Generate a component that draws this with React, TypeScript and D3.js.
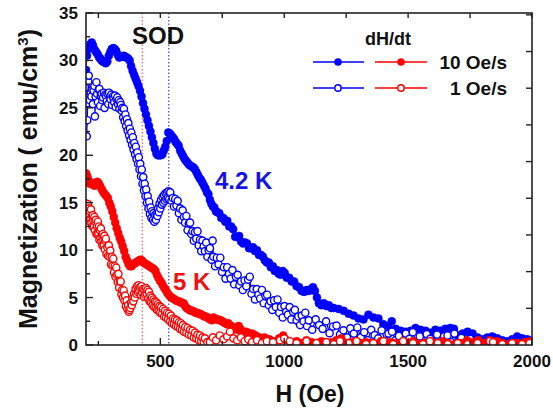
import React from "react";
import * as d3 from "d3";

type P = [number, number];

// 4.2 K, dH/dt = 10 Oe/s (filled blue)
const blue10: P[] = [
  [200, 29.0], [204, 30.5], [208, 31.2], [213, 31.3], [218, 31.7], [223, 31.9], [228, 31.6], [233, 31.2],
  [238, 31.0], [243, 30.8], [248, 30.6], [253, 30.3], [258, 30.2], [263, 30.0], [268, 29.9], [274, 29.8],
  [280, 29.7], [286, 29.9], [292, 30.5], [298, 30.9], [304, 31.2], [310, 31.3], [316, 31.2], [322, 31.0],
  [328, 30.6], [334, 30.3], [340, 30.4], [346, 30.4], [352, 30.5], [358, 30.4], [364, 30.3], [370, 30.2],
  [376, 30.0], [382, 29.4], [388, 28.9], [394, 28.5], [400, 28.1], [406, 27.7], [412, 27.3], [418, 26.8],
  [424, 26.2], [430, 25.5], [436, 24.9], [442, 24.3], [448, 23.7], [454, 23.1], [460, 22.5], [466, 21.9],
  [472, 21.3], [478, 20.7], [484, 20.2], [490, 20.0], [496, 20.0], [502, 20.0], [508, 20.1], [514, 20.5],
  [520, 20.9], [526, 21.5], [532, 22.4], [538, 22.3], [544, 22.1], [550, 21.9], [556, 21.7], [562, 21.4],
  [568, 21.2], [574, 21.0], [580, 20.5], [586, 20.2], [592, 19.9], [598, 19.6], [604, 19.4], [610, 19.2],
  [616, 19.0], [622, 18.9], [628, 18.8], [634, 18.7], [640, 18.5], [646, 18.2], [652, 17.9], [658, 17.6],
  [664, 17.4], [670, 17.1], [676, 16.8], [682, 16.5], [688, 16.1], [694, 15.9], [700, 15.3], [706, 14.9],
  [712, 14.6], [718, 14.5], [724, 14.1], [730, 14.0], [738, 13.9], [746, 13.4], [754, 13.4], [762, 13.0],
  [770, 13.1], [778, 12.5], [786, 12.5], [794, 12.2], [802, 11.4], [810, 11.4], [818, 11.5], [826, 10.9],
  [834, 10.7], [842, 10.8], [850, 10.7], [858, 10.2], [866, 10.2], [874, 10.3], [882, 9.9], [890, 10.0],
  [898, 9.5], [906, 9.5], [914, 9.3], [922, 8.9], [930, 8.7], [938, 8.7], [946, 8.2], [954, 8.3],
  [962, 7.8], [970, 7.9], [978, 7.5], [986, 7.4], [994, 7.8], [1002, 7.6], [1010, 7.1], [1020, 7.1],
  [1030, 6.7], [1040, 6.7], [1050, 6.2], [1060, 6.1], [1070, 5.7], [1080, 5.6], [1090, 5.8], [1100, 5.7],
  [1108, 5.9], [1116, 6.1], [1124, 5.7], [1132, 5.0], [1140, 4.4], [1150, 4.2], [1160, 4.4], [1170, 4.1],
  [1180, 4.2], [1190, 3.9], [1200, 3.9], [1220, 3.8], [1240, 3.6], [1260, 3.3], [1280, 3.1], [1300, 2.8],
  [1320, 2.7], [1340, 3.2], [1360, 2.9], [1380, 2.8], [1400, 2.2], [1420, 2.0], [1434, 2.5], [1450, 1.7],
  [1470, 1.5], [1490, 1.4], [1510, 1.5], [1530, 1.8], [1550, 1.6], [1570, 1.5], [1590, 1.3], [1610, 1.6],
  [1630, 1.5], [1650, 1.7], [1670, 1.8], [1685, 1.7], [1700, 1.0], [1720, 1.2], [1740, 1.4], [1760, 1.2],
  [1780, 0.8], [1800, 0.6], [1820, 0.8], [1840, 0.9], [1860, 0.7], [1880, 0.5], [1900, 0.4], [1920, 0.6],
  [1940, 0.9], [1960, 0.7], [1980, 0.6], [2000, 0.5],
];

// 4.2 K, dH/dt = 1 Oe/s (open blue)
const blue1: P[] = [
  [203, 22.0], [205, 23.7], [207, 25.5], [209, 27.8], [211, 28.4], [213, 26.5], [216, 25.8], [219, 26.6],
  [222, 26.2], [225, 26.9], [228, 25.4], [231, 26.8], [234, 27.3], [236, 24.1], [239, 26.2], [242, 27.7],
  [245, 26.5], [248, 25.6], [251, 26.9], [254, 27.0], [257, 25.2], [260, 26.3], [263, 26.5], [266, 25.8],
  [269, 26.1], [272, 26.6], [275, 25.0], [278, 26.4], [281, 26.2], [284, 25.7], [287, 26.5], [290, 25.4],
  [293, 26.6], [296, 26.1], [299, 25.9], [302, 26.4], [305, 25.3], [308, 26.2], [311, 26.0], [314, 25.6],
  [317, 26.3], [320, 25.1], [323, 25.9], [326, 26.1], [329, 25.4], [332, 25.8], [335, 24.9], [338, 25.6],
  [341, 25.3], [344, 24.7], [347, 25.0],
  [350, 24.0], [353, 24.9], [356, 23.6], [359, 24.3], [362, 23.1], [365, 23.8], [368, 22.6], [371, 23.4],
  [374, 22.1], [377, 22.8], [380, 21.6], [383, 22.4], [386, 21.1], [389, 21.9], [392, 20.6], [395, 21.3],
  [398, 20.1], [401, 20.9], [404, 19.6], [407, 20.3], [410, 19.1], [413, 19.8], [416, 18.5], [419, 19.1],
  [422, 17.8], [425, 18.5], [428, 17.0], [431, 17.7], [434, 16.3], [437, 17.0], [440, 15.7], [443, 16.4],
  [446, 15.0], [449, 15.7], [452, 14.4], [455, 15.1], [458, 13.8], [461, 14.5], [464, 13.4], [467, 14.1],
  [470, 13.2], [473, 13.9], [476, 13.0], [479, 13.7], [482, 13.2], [485, 13.8], [488, 13.6], [491, 14.4],
  [494, 14.0], [497, 14.9], [500, 14.4], [503, 15.3], [506, 14.8], [509, 15.6], [512, 15.0], [515, 15.8],
  [518, 15.2], [521, 16.0], [524, 15.4], [527, 16.1], [530, 15.5], [533, 16.2], [536, 15.4], [539, 16.0],
  [540, 16.1], [545, 15.2], [550, 15.5], [555, 14.6], [560, 15.4], [565, 14.7], [570, 15.2], [575, 13.9],
  [580, 14.4], [585, 13.2], [590, 14.2], [595, 13.5], [600, 12.9], [605, 13.6], [610, 12.1], [615, 12.8],
  [620, 12.9], [625, 11.7], [630, 12.0], [635, 11.0], [640, 11.9], [645, 11.2], [650, 12.0], [655, 10.5],
  [660, 11.1], [665, 9.9], [670, 11.0], [675, 10.4], [680, 9.9], [685, 10.8], [690, 9.3], [695, 10.0],
  [700, 10.2], [707, 9.0], [711, 11.0], [714, 9.3], [721, 8.3], [728, 9.2], [735, 8.5], [742, 9.2],
  [749, 7.7], [756, 8.2], [763, 7.0], [770, 8.2], [777, 7.5], [784, 7.0], [791, 7.9], [798, 6.4],
  [805, 7.2], [812, 7.4], [819, 6.3], [826, 6.7], [833, 5.8], [840, 6.8], [847, 6.2], [854, 6.9],
  [861, 7.2], [868, 5.4], [875, 5.9], [882, 4.8], [889, 5.9], [896, 5.3], [903, 4.9], [910, 5.8],
  [917, 4.4], [924, 5.2], [931, 5.3], [938, 4.2], [945, 4.6], [952, 3.7], [959, 4.7], [966, 4.0],
  [973, 4.8], [980, 3.4], [987, 4.0], [994, 2.9], [1001, 4.1], [1008, 3.5], [1015, 3.2], [1022, 4.0],
  [1029, 2.7], [1036, 3.5], [1043, 3.7], [1050, 2.6], [1057, 3.0], [1064, 2.1], [1071, 3.1], [1078, 2.5],
  [1085, 3.4], [1092, 2.0], [1099, 2.6], [1113, 1.6], [1127, 2.7], [1141, 2.1], [1155, 1.7], [1169, 2.5],
  [1183, 1.25], [1197, 1.95], [1211, 2.05], [1225, 1.1], [1239, 1.55], [1253, 0.8], [1267, 1.75], [1281, 1.2],
  [1295, 1.85], [1309, 0.8], [1323, 1.35], [1337, 0.5], [1351, 1.6], [1365, 1.05], [1379, 0.7], [1393, 1.55],
  [1407, 0.45], [1421, 1.2], [1435, 1.4], [1449, 0.5], [1463, 0.95], [1477, 0.3], [1491, 1.2], [1505, 0.65],
  [1519, 1.35], [1533, 0.3], [1547, 0.9], [1561, 0.2], [1575, 1.15], [1589, 0.65], [1603, 0.3], [1617, 1.1],
  [1631, 0.2], [1645, 0.9], [1659, 1.0], [1673, 0.3], [1687, 1.2], [1701, 0.3], [1715, 0.75], [1730, 0.2],
  [1750, 0.65],
];

// 5 K, dH/dt = 10 Oe/s (filled red)
const red10: P[] = [
  [200, 18.1], [205, 17.8], [210, 17.4], [216, 17.0], [222, 17.1], [228, 16.9], [234, 16.8], [240, 17.1],
  [246, 17.2], [252, 17.0], [258, 16.7], [264, 16.4], [270, 16.1], [276, 15.9], [282, 15.7], [288, 15.5],
  [294, 15.0], [300, 14.6], [306, 14.1], [312, 13.5], [318, 12.9], [324, 12.3], [330, 11.8], [336, 11.3],
  [342, 10.9], [348, 10.4], [354, 9.9], [360, 9.3], [366, 8.9], [372, 8.5], [378, 8.3], [384, 8.3],
  [390, 8.5], [396, 8.6], [402, 8.7], [408, 8.8], [414, 8.9], [420, 9.0], [426, 8.9], [432, 8.7],
  [438, 8.6], [444, 8.5], [450, 8.4], [456, 8.3], [462, 8.2], [468, 8.1], [474, 8.0], [480, 7.8],
  [486, 7.4], [492, 7.1], [498, 6.8], [504, 6.6], [510, 6.3], [516, 6.0], [522, 5.8], [528, 5.5],
  [534, 5.3], [540, 5.1], [546, 5.0], [552, 4.9], [558, 4.8], [564, 4.7], [570, 4.6], [576, 4.6],
  [582, 4.5], [588, 4.4], [594, 4.4], [600, 4.1], [606, 3.9], [612, 3.8], [618, 3.7], [624, 3.6],
  [630, 3.6], [636, 3.5], [642, 3.4], [648, 3.4], [654, 3.3], [660, 3.3], [666, 3.2], [672, 3.1],
  [678, 3.0], [684, 3.0], [690, 2.9], [696, 2.8], [702, 2.7], [708, 2.6], [714, 2.9], [720, 2.8],
  [726, 2.7], [732, 2.7], [738, 2.6], [744, 2.6], [750, 2.5], [756, 2.4], [762, 2.3], [768, 2.2],
  [774, 2.3], [780, 2.1], [786, 2.0], [792, 1.9], [798, 1.8], [804, 1.7], [810, 1.6], [816, 2.0],
  [822, 1.7], [828, 1.5], [834, 1.4], [840, 1.3], [846, 1.4], [852, 1.3], [858, 1.2], [864, 1.1],
  [870, 1.2], [876, 1.1], [882, 1.0], [890, 0.9], [900, 0.8], [910, 0.7], [920, 0.8], [930, 0.6],
  [940, 0.6], [960, 0.4], [980, 0.7], [996, 1.0], [1010, 0.5], [1030, 0.3], [1050, 0.4], [1070, 0.2],
  [1090, 0.5], [1110, 0.3], [1130, 0.2], [1150, 0.4], [1170, 0.1], [1190, 0.3], [1210, 0.5], [1230, 0.7],
  [1250, 0.2], [1270, 0.3], [1290, 0.4], [1310, 0.2], [1330, 0.3], [1350, 0.2], [1370, 0.1], [1390, 0.4],
  [1410, 0.1], [1430, 0.3], [1450, 0.2], [1470, 0.1], [1480, 0.4], [1500, 0.2], [1520, 0.4], [1540, 0.1],
  [1560, 0.2], [1590, 0.4], [1610, 0.2], [1640, 0.4], [1660, 0.2], [1690, 0.1], [1710, 0.2], [1738, 0.5],
  [1760, 0.3], [1783, 0.5], [1810, 0.2], [1830, 0.5], [1859, 0.4], [1880, 0.2], [1910, 0.1], [1940, 0.2],
  [1970, 0.3], [1992, 0.4],
];

// 5 K, dH/dt = 1 Oe/s (open red)
const red1: P[] = [
  [200, 14.9], [202, 13.3], [204, 14.3], [206, 13.5], [208, 14.85], [210, 13.7], [212, 14.4], [214, 13.05],
  [216, 14.1], [218, 13.3], [220, 14.3], [222, 12.9], [224, 13.6], [226, 12.5], [228, 13.7], [230, 13.1],
  [232, 12.5], [234, 13.5], [236, 12.1], [238, 13.0], [240, 13.2], [242, 11.7], [244, 12.5], [246, 11.7],
  [248, 13.0], [250, 11.8], [252, 12.5], [254, 11.1], [256, 12.1], [258, 11.3], [260, 12.3], [262, 10.9],
  [264, 11.6], [266, 10.5], [268, 11.7], [270, 11.1], [272, 10.5], [274, 11.5], [276, 10.1], [278, 11.0],
  [280, 11.2], [283, 9.6], [286, 10.3], [289, 9.4], [292, 10.5], [295, 9.3], [298, 9.95], [301, 8.5],
  [304, 9.3], [307, 8.35], [310, 9.1], [313, 7.65], [316, 8.3], [319, 7.2], [322, 8.15], [325, 7.4],
  [328, 6.65], [331, 7.5], [334, 6.05], [337, 6.7], [340, 6.7], [343, 5.35], [346, 5.8], [349, 5.0],
  [352, 5.75], [355, 4.7], [358, 5.2], [361, 4.1], [364, 4.7], [367, 3.8], [370, 4.2], [373, 3.5],
  [376, 3.7], [379, 3.9], [382, 4.5], [385, 4.2], [388, 4.9], [391, 4.6], [394, 5.4], [397, 5.0],
  [400, 5.9], [403, 5.4], [406, 6.2], [409, 5.6], [412, 6.3], [415, 5.7], [418, 6.1], [421, 5.3],
  [424, 6.2], [427, 5.5], [430, 5.9], [433, 5.1], [436, 5.8], [439, 5.3], [442, 6.0], [445, 5.4],
  [448, 5.8], [451, 4.9], [454, 5.6], [457, 4.6], [460, 5.2], [463, 4.5], [466, 5.0], [469, 4.2],
  [472, 4.8], [475, 4.0], [478, 4.6], [481, 3.9], [484, 4.5], [487, 3.7], [490, 4.3], [493, 3.6],
  [496, 4.1], [499, 3.4], [503, 4.0], [507, 3.3], [511, 3.8], [515, 3.0], [519, 3.6], [523, 2.9],
  [527, 3.4], [531, 2.7], [535, 3.3], [539, 2.5], [543, 3.1], [547, 2.3], [551, 2.8], [555, 2.2],
  [559, 2.7], [563, 2.0], [567, 2.6], [571, 1.9], [575, 2.4], [579, 1.7], [583, 2.3], [587, 1.6],
  [591, 2.1], [595, 1.4], [600, 1.9], [605, 1.3], [610, 1.8], [615, 1.1], [620, 1.6], [625, 1.0],
  [630, 1.5], [635, 0.8], [640, 1.3], [645, 0.7], [650, 1.1], [655, 0.5], [660, 1.0], [665, 0.4],
  [670, 0.8], [675, 0.3], [680, 0.7], [690, 0.3],
  [700, 0.3], [712, 0.8], [725, 0.5], [740, 1.0], [755, 0.6], [770, 0.9], [781, 1.4], [795, 0.7],
  [810, 0.5], [825, 0.8], [840, 0.4], [855, 0.6], [870, 0.3], [890, 0.5], [910, 0.2], [930, 0.4],
  [955, 0.3], [983, 0.5], [1000, 0.7], [1023, 0.4], [1050, 0.2], [1090, 0.4], [1130, 0.2], [1170, 0.3],
  [1200, 0.1], [1225, 0.4], [1260, 0.2], [1292, 0.4], [1330, 0.1], [1360, 0.2], [1400, 0.4], [1440, 0.1],
  [1480, 0.4], [1520, 0.2], [1560, 0.1], [1588, 0.4], [1620, 0.2], [1660, 0.1], [1700, 0.2], [1740, 0.1],
  [1780, 0.2], [1830, 0.4], [1843, 0.3], [1880, 0.1], [1920, 0.2], [1960, 0.1], [1990, 0.2],
];

const xTicks = [500, 1000, 1500, 2000];
const xMinorTicks = [250, 750, 1250, 1750];
const yTicks = [0, 5, 10, 15, 20, 25, 30, 35];
const yMinorTicks = [2.5, 7.5, 12.5, 17.5, 22.5, 27.5, 32.5];
const rightTicks = [1, 2, 3, 4, 5, 6, 7, 8, 9];
const sodLines = [427, 534];

const BLUE = "#0000ff";
const RED = "#ff0000";
const FONT = "Arial, 'Liberation Sans', Helvetica, sans-serif";

export default function App() {
  const W = 553, H = 408;
  const L = 86, T = 13, R = 532, B = 345;
  const x = d3.scaleLinear().domain([200, 2000]).range([L, R]);
  const y = d3.scaleLinear().domain([0, 35]).range([B, T]);
  const yr = d3.scaleLinear().domain([0, 9.05]).range([B, T]);
  const line = d3.line<P>().x(d => x(d[0])).y(d => y(d[1]));

  const series = [
    { data: blue10, color: BLUE, open: false },
    { data: blue1, color: BLUE, open: true },
    { data: red10, color: RED, open: false },
    { data: red1, color: RED, open: true },
  ];

  const axisColor = "#222";

  return (
    <svg width={W} height={H} style={{ position: "absolute", left: 0, top: 0, background: "#fff" }}>
      <defs>
        <clipPath id="plotClip">
          <rect x={L} y={T} width={R - L} height={B - T} />
        </clipPath>
      </defs>
      <rect x={0} y={0} width={W} height={H} fill="#fff" />

      {/* SOD dotted lines */}
      <line x1={x(sodLines[0])} x2={x(sodLines[0])} y1={T} y2={B} stroke="#ff5a5a" strokeWidth={1.2} strokeDasharray="1.5,2" />
      <line x1={x(sodLines[1])} x2={x(sodLines[1])} y1={T} y2={B} stroke="#3a3aff" strokeWidth={1.2} strokeDasharray="1.5,2" />

      <g clipPath="url(#plotClip)">
        {series.map((s, i) => (
          <g key={i}>
            <path d={line(s.data) || ""} fill="none" stroke={s.color} strokeWidth={1.2} />
            {s.data.map((d, j) => (
              <circle
                key={j}
                cx={x(d[0])}
                cy={y(d[1])}
                r={s.open ? 3.6 : 4}
                fill={s.open ? "#fff" : s.color}
                stroke={s.color}
                strokeWidth={s.open ? 1.4 : 0.5}
              />
            ))}
          </g>
        ))}
      </g>

      {/* frame */}
      <rect x={L} y={T} width={R - L} height={B - T} fill="none" stroke={axisColor} strokeWidth={1.6} />

      {/* bottom & top ticks */}
      {xTicks.map(t => (
        <g key={"xt" + t}>
          <line x1={x(t)} x2={x(t)} y1={B} y2={B - 7} stroke={axisColor} strokeWidth={1.4} />
          <line x1={x(t)} x2={x(t)} y1={T} y2={T + 5} stroke={axisColor} strokeWidth={1.4} />
          <text x={x(t)} y={B + 22} textAnchor="middle" fontFamily={FONT} fontWeight="bold" fontSize={17} fill="#111">{t}</text>
        </g>
      ))}
      {xMinorTicks.map(t => (
        <g key={"xm" + t}>
          <line x1={x(t)} x2={x(t)} y1={B} y2={B - 4} stroke={axisColor} strokeWidth={1.4} />
          <line x1={x(t)} x2={x(t)} y1={T} y2={T + 5} stroke={axisColor} strokeWidth={1.4} />
        </g>
      ))}

      {/* left ticks */}
      {yTicks.map(t => (
        <g key={"yt" + t}>
          <line x1={L} x2={L + 7} y1={y(t)} y2={y(t)} stroke={axisColor} strokeWidth={1.4} />
          <text x={L - 8} y={y(t) + 6} textAnchor="end" fontFamily={FONT} fontWeight="bold" fontSize={17} fill="#111">{t}</text>
        </g>
      ))}
      {yMinorTicks.map(t => (
        <line key={"ym" + t} x1={L} x2={L + 4} y1={y(t)} y2={y(t)} stroke={axisColor} strokeWidth={1.4} />
      ))}
      {/* right ticks */}
      {rightTicks.map(t => (
        <line key={"rt" + t} x1={R} x2={R - 6} y1={yr(t)} y2={yr(t)} stroke={axisColor} strokeWidth={1.4} />
      ))}

      {/* axis titles */}
      <text x={310} y={402} textAnchor="middle" fontFamily={FONT} fontWeight="bold" fontSize={23} fill="#111">H (Oe)</text>
      <text transform={`translate(37, ${(T + B) / 2}) rotate(-90)`} textAnchor="middle" fontFamily={FONT} fontWeight="bold" fontSize={25} fill="#111">
        Magnetization ( emu/cm<tspan dy={-9} fontSize={15}>3</tspan><tspan dy={9}>)</tspan>
      </text>

      {/* annotations */}
      <text x={158} y={44} textAnchor="middle" fontFamily={FONT} fontWeight="bold" fontSize={24} fill="#111">SOD</text>
      <text x={215} y={189} fontFamily={FONT} fontWeight="bold" fontSize={24} fill="#1414e6">4.2 K</text>
      <text x={173} y={290} fontFamily={FONT} fontWeight="bold" fontSize={24} fill="#ee1111">5 K</text>

      {/* legend */}
      <text x={388} y={45} textAnchor="middle" fontFamily={FONT} fontWeight="bold" fontSize={18} fill="#111">dH/dt</text>
      {[0, 1].map(row => {
        const ly = row === 0 ? 62 : 88;
        const open = row === 1;
        return (
          <g key={"lg" + row}>
            <line x1={313} x2={364} y1={ly} y2={ly} stroke={BLUE} strokeWidth={1.4} />
            <circle cx={338} cy={ly} r={open ? 3.2 : 3.6} fill={open ? "#fff" : BLUE} stroke={BLUE} strokeWidth={open ? 1.4 : 0.5} />
            <line x1={375} x2={427} y1={ly} y2={ly} stroke={RED} strokeWidth={1.4} />
            <circle cx={401} cy={ly} r={open ? 3.2 : 3.6} fill={open ? "#fff" : RED} stroke={RED} strokeWidth={open ? 1.4 : 0.5} />
            <text x={507} y={ly + 7} textAnchor="end" fontFamily={FONT} fontWeight="bold" fontSize={19} fill="#111">{row === 0 ? "10 Oe/s" : "1 Oe/s"}</text>
          </g>
        );
      })}
    </svg>
  );
}
